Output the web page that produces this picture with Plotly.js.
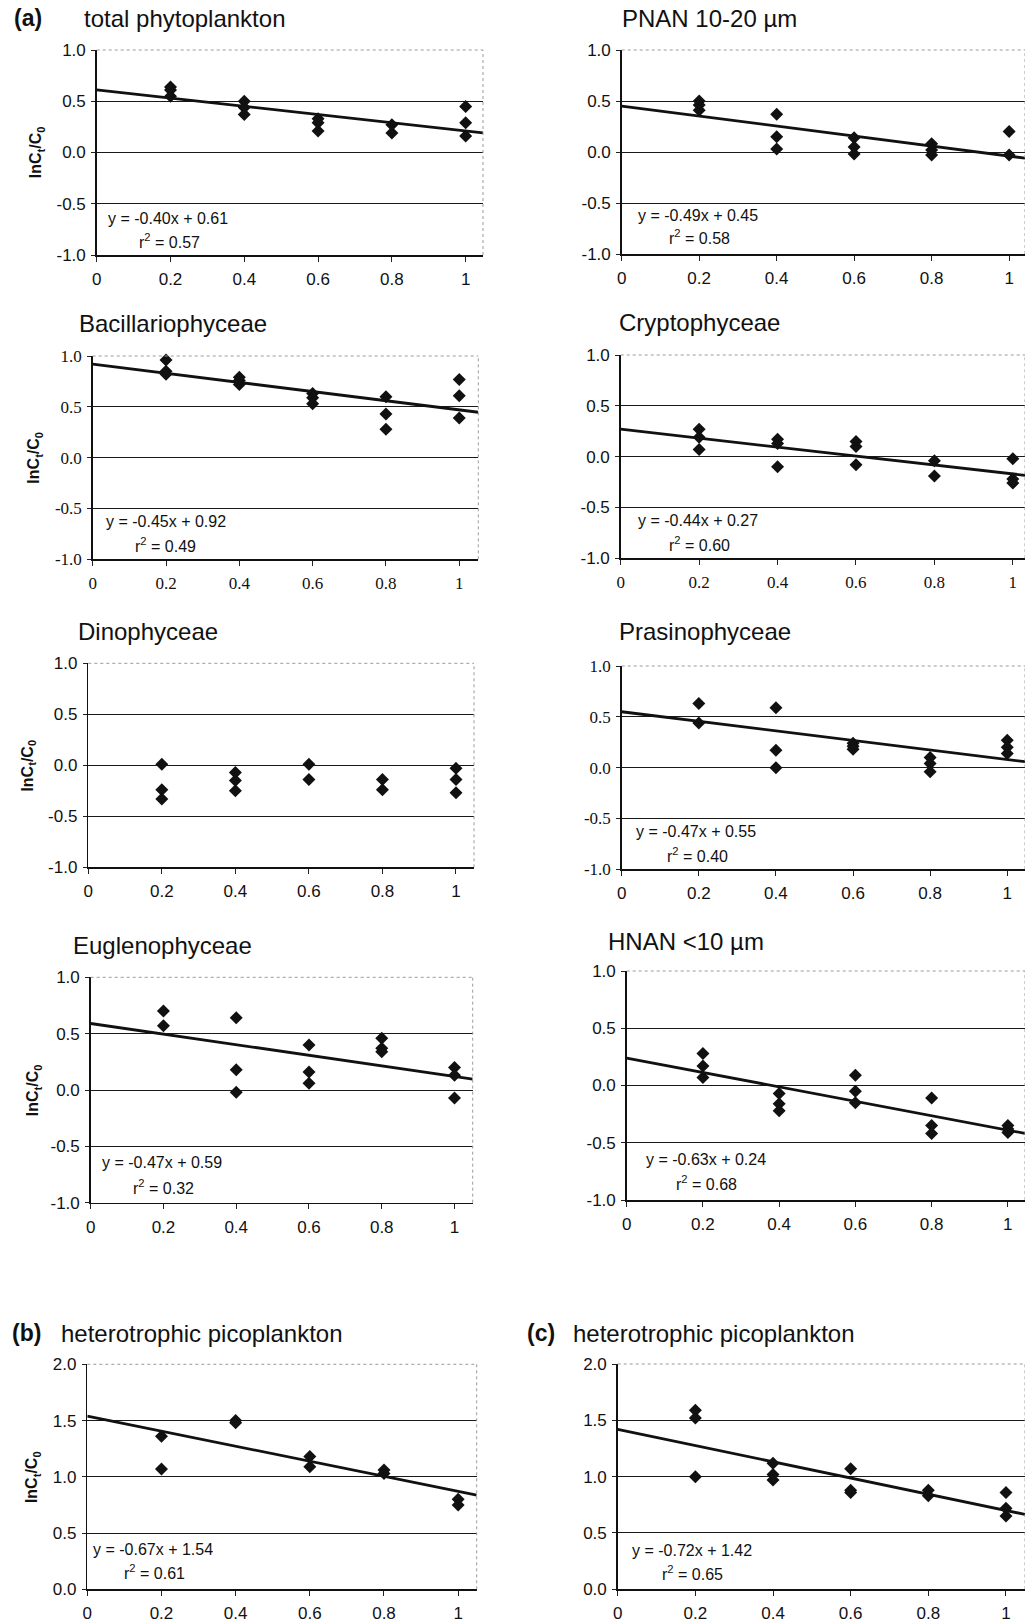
<!DOCTYPE html>
<html>
<head>
<meta charset="utf-8">
<script src="https://cdn.plot.ly/plotly-3.0.1.min.js"></script>
<style>html,body{margin:0;padding:0;background:#fff;}#chart{width:1025px;height:1624px;}</style>
</head>
<body>
<div id="chart"></div>
<script>
// ---------- DATA ----------
const panelTitles = ["total phytoplankton", "PNAN 10-20 µm", "Bacillariophyceae", "Cryptophyceae",
  "Dinophyceae", "Prasinophyceae", "Euglenophyceae", "HNAN <10 µm",
  "heterotrophic picoplankton", "heterotrophic picoplankton"];
const panelLetters = ["(a)", "", "", "", "", "", "", "", "(b)", "(c)"];

const xTotal = [0.2,0.2,0.2, 0.4,0.4,0.4, 0.6,0.6,0.6, 0.8,0.8, 1,1,1];
const yTotal = [0.64,0.61,0.55, 0.50,0.44,0.37, 0.33,0.29,0.21, 0.27,0.19, 0.45,0.29,0.16];

const xPnan = [0.2,0.2,0.2, 0.4,0.4,0.4, 0.6,0.6,0.6, 0.8,0.8,0.8, 1,1];
const yPnan = [0.50,0.46,0.41, 0.37,0.15,0.03, 0.14,0.05,-0.02, 0.08,0.02,-0.03, 0.20,-0.03];

const xBacil = [0.2,0.2,0.2, 0.4,0.4,0.4, 0.6,0.6,0.6, 0.8,0.8,0.8, 1,1,1];
const yBacil = [0.96,0.85,0.82, 0.79,0.76,0.72, 0.63,0.59,0.53, 0.60,0.43,0.28, 0.77,0.61,0.39];

const xCrypto = [0.2,0.2,0.2, 0.4,0.4,0.4, 0.6,0.6,0.6, 0.8,0.8, 1,1,1];
const yCrypto = [0.27,0.19,0.07, 0.17,0.13,-0.10, 0.15,0.10,-0.08, -0.04,-0.19, -0.02,-0.22,-0.26];

const xDino = [0.2,0.2,0.2, 0.4,0.4,0.4, 0.6,0.6, 0.8,0.8, 1,1,1];
const yDino = [0.01,-0.24,-0.33, -0.07,-0.15,-0.25, 0.01,-0.14, -0.14,-0.24, -0.03,-0.14,-0.27];

const xPras = [0.2,0.2, 0.4,0.4,0.4, 0.6,0.6,0.6, 0.8,0.8,0.8, 1,1,1];
const yPras = [0.63,0.44, 0.59,0.17,0.0, 0.24,0.21,0.18, 0.10,0.04,-0.04, 0.27,0.20,0.14];

const xEugl = [0.2,0.2, 0.4,0.4,0.4, 0.6,0.6,0.6, 0.8,0.8,0.8, 1,1,1];
const yEugl = [0.70,0.57, 0.64,0.18,-0.02, 0.40,0.16,0.06, 0.46,0.37,0.34, 0.20,0.13,-0.07];

const xHnan = [0.2,0.2,0.2, 0.4,0.4,0.4, 0.6,0.6,0.6, 0.8,0.8,0.8, 1,1,1];
const yHnan = [0.28,0.17,0.07, -0.07,-0.16,-0.22, 0.09,-0.05,-0.15, -0.11,-0.35,-0.42, -0.35,-0.38,-0.41];

const xPicoB = [0.2,0.2, 0.4,0.4, 0.6,0.6, 0.8,0.8, 1,1];
const yPicoB = [1.36,1.07, 1.50,1.48, 1.18,1.09, 1.06,1.03, 0.80,0.75];

const xPicoC = [0.2,0.2,0.2, 0.4,0.4,0.4, 0.6,0.6,0.6, 0.8,0.8, 1,1,1];
const yPicoC = [1.59,1.52,1.00, 1.12,1.02,0.97, 1.07,0.88,0.86, 0.88,0.83, 0.86,0.72,0.65];

const slopes     = [-0.40, -0.49, -0.45, -0.44, null, -0.47, -0.47, -0.63, -0.67, -0.72];
const intercepts = [ 0.61,  0.45,  0.92,  0.27, null,  0.55,  0.59,  0.24,  1.54,  1.42];
const rSquared   = ["0.57", "0.58", "0.49", "0.60", null, "0.40", "0.32", "0.68", "0.61", "0.65"];

const xTickVals = [0, 0.2, 0.4, 0.6, 0.8, 1];
const xTickText = ["0", "0.2", "0.4", "0.6", "0.8", "1"];
const yTickValsA = [-1, -0.5, 0, 0.5, 1];
const yTickTextA = ["-1.0", "-0.5", "0.0", "0.5", "1.0"];
const yTickValsB = [0, 0.5, 1, 1.5, 2];
const yTickTextB = ["0.0", "0.5", "1.0", "1.5", "2.0"];

const allX = [xTotal, xPnan, xBacil, xCrypto, xDino, xPras, xEugl, xHnan, xPicoB, xPicoC];
const allY = [yTotal, yPnan, yBacil, yCrypto, yDino, yPras, yEugl, yHnan, yPicoB, yPicoC];

// ---------- LAYOUT (pixel geometry) ----------
const W = 1025, H = 1624;
const SANS = "Liberation Sans, Arial, sans-serif";
const SERIF = "Liberation Serif, Times New Roman, serif";
const geom = [
  {px:[96.7,483], py:[50,255], xmax:1.047, xf:SANS, yf:SANS, eq:[0.025,-0.64], r2:[0.109,-0.86], tx:81.7, ty:18, lx:12, yt:36.7},
  {px:[621.7,1025], py:[50,254], xmax:1.041, xf:SANS, yf:SANS, eq:[0.037,-0.62], r2:[0.116,-0.83], tx:620, ty:18},
  {px:[92.7,478.3], py:[356,559.3], xmax:1.052, xf:SERIF, yf:SERIF, eq:[0.031,-0.63], r2:[0.11,-0.86], tx:77, ty:323, yt:35},
  {px:[620.7,1025], py:[355,558.3], xmax:1.031, xf:SERIF, yf:SANS, eq:[0.039,-0.63], r2:[0.117,-0.86], tx:616.7, ty:322},
  {px:[88.3,474], py:[663.3,867.3], xmax:1.049, xf:SANS, yf:SANS, tx:76, ty:631, yt:28.3},
  {px:[621.7,1025], py:[666,869.3], xmax:1.046, xf:SANS, yf:SERIF, eq:[0.032,-0.63], r2:[0.112,-0.86], tx:616.7, ty:631},
  {px:[90.7,472.7], py:[977.3,1202.7], xmax:1.05, xf:SANS, yf:SANS, eq:[0.026,-0.645], r2:[0.11,-0.858], tx:71, ty:945, yt:33.3},
  {px:[626.7,1025], py:[971,1200], xmax:1.045, xf:SANS, yf:SANS, eq:[0.045,-0.65], r2:[0.124,-0.855], tx:606, ty:941},
  {px:[87.3,476.7], py:[1364.3,1589.3], xmax:1.05, xf:SANS, yf:SANS, eq:[0.009,0.356], r2:[0.093,0.156], tx:59.3, ty:1333, lx:10, yt:33.3},
  {px:[617.7,1025], py:[1364,1589.3], xmax:1.049, xf:SANS, yf:SANS, eq:[0.032,0.343], r2:[0.109,0.142], tx:570.7, ty:1333, lx:525}
];

const traces = [];
const layout = {
  width: W, height: H,
  margin: {l:0, r:0, t:0, b:0},
  paper_bgcolor: "#fff", plot_bgcolor: "#fff",
  showlegend: false,
  annotations: [], shapes: []
};

geom.forEach((g, i) => {
  const n = i + 1;
  const xa = "x" + (n === 1 ? "" : n), ya = "y" + (n === 1 ? "" : n);
  const xaKey = "xaxis" + (n === 1 ? "" : n), yaKey = "yaxis" + (n === 1 ? "" : n);
  const isPico = i >= 8;
  layout[xaKey] = {
    domain: [g.px[0] / W, Math.min(1, g.px[1] / W)],
    range: [0, g.xmax], anchor: ya,
    tickvals: xTickVals, ticktext: xTickText,
    tickfont: {family: g.xf, size: 17, color: "#111"},
    ticks: "outside", ticklen: 5, tickcolor: "#222", tickwidth: 1,
    ticklabelstandoff: 3,
    showline: true, linecolor: "#111", linewidth: 1.5,
    showgrid: false, zeroline: false, fixedrange: true
  };
  layout[yaKey] = {
    domain: [1 - g.py[1] / H, 1 - g.py[0] / H],
    range: isPico ? [0, 2] : [-1, 1], anchor: xa,
    tickvals: isPico ? yTickValsB : yTickValsA,
    ticktext: isPico ? yTickTextB : yTickTextA,
    tickfont: {family: g.yf, size: 17, color: "#111"},
    ticks: "outside", ticklen: 4, tickcolor: "#222", tickwidth: 1,
    ticklabelstandoff: 2,
    showline: true, linecolor: "#111", linewidth: 1.5,
    showgrid: true, gridcolor: "#1a1a1a", gridwidth: 1,
    zeroline: false, fixedrange: true
  };
  // top and right frame (light)
  layout.shapes.push({type:"line", xref: xa + " domain", yref: ya + " domain", x0:0, x1:1, y0:1, y1:1,
    line:{color:"#9a9a9a", width:1, dash:"dot"}, layer:"above"});
  layout.shapes.push({type:"line", xref: xa + " domain", yref: ya + " domain", x0:1, x1:1, y0:0, y1:1,
    line:{color:"#9a9a9a", width:1, dash:"dot"}, layer:"above"});

  // scatter points
  traces.push({
    type: "scatter", mode: "markers", x: allX[i], y: allY[i], xaxis: xa, yaxis: ya,
    marker: {symbol: "diamond", size: 10, color: "#111"}, hoverinfo: "skip", cliponaxis: false
  });
  // regression line
  if (slopes[i] !== null) {
    traces.push({
      type: "scatter", mode: "lines",
      x: [0, g.xmax], y: [intercepts[i], intercepts[i] + slopes[i] * g.xmax],
      xaxis: xa, yaxis: ya, line: {color: "#111", width: 2.8}, hoverinfo: "skip"
    });
    const sign = intercepts[i] >= 0 ? "+" : "-";
    layout.annotations.push({
      xref: xa, yref: ya, x: g.eq[0], y: g.eq[1], xanchor: "left", yanchor: "middle",
      text: "y = " + slopes[i].toFixed(2) + "x " + sign + " " + Math.abs(intercepts[i]).toFixed(2),
      showarrow: false, font: {family: SANS, size: 16, color: "#111"}
    });
    layout.annotations.push({
      xref: xa, yref: ya, x: g.r2[0], y: g.r2[1], xanchor: "left", yanchor: "middle",
      text: "r<sup>2</sup> = " + rSquared[i],
      showarrow: false, font: {family: SANS, size: 16, color: "#111"}
    });
  }
  // panel title
  layout.annotations.push({
    xref: "paper", yref: "paper", x: g.tx / W, y: 1 - g.ty / H, xanchor: "left", yanchor: "middle",
    text: panelTitles[i], showarrow: false, font: {family: SANS, size: 24, color: "#111"}
  });
  if (panelLetters[i]) {
    layout.annotations.push({
      xref: "paper", yref: "paper", x: g.lx / W, y: 1 - g.ty / H, xanchor: "left", yanchor: "middle",
      text: "<b>" + panelLetters[i] + "</b>", showarrow: false, font: {family: SANS, size: 23, color: "#111"}
    });
  }
  // y-axis title (left column only)
  if (g.yt !== undefined) {
    layout.annotations.push({
      xref: "paper", yref: "paper", x: g.yt / W, y: 1 - ((g.py[0] + g.py[1]) / 2) / H,
      xanchor: "center", yanchor: "middle", textangle: -90,
      text: "<b>lnC<sub>t</sub>/C<sub>0</sub></b>", showarrow: false,
      font: {family: SANS, size: 16, color: "#111"}
    });
  }
});

Plotly.newPlot("chart", traces, layout, {staticPlot: true, displayModeBar: false});
</script>
</body>
</html>
